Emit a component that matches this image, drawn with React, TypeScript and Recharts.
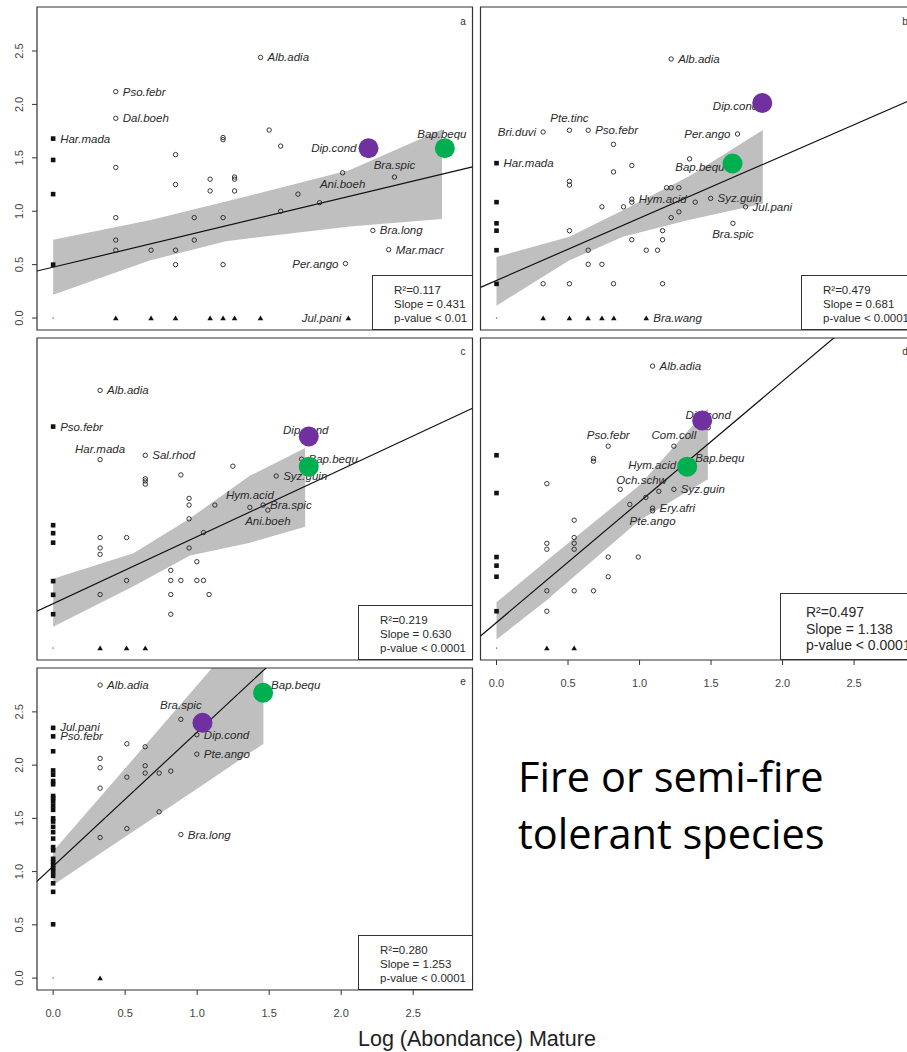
import React from "react";
import { ComposedChart, XAxis, YAxis, Scatter, Line, Area, ReferenceArea } from "recharts";

type XY = [number, number];
type Band = [number, number, number];
type Lab = [string, number, number];
type Place = "r" | "l" | "t" | "b" | [number, number, "start" | "middle" | "end"];

const DOMAIN: [number, number] = [-0.112, 2.912];
const TICKS = [0, 0.5, 1, 1.5, 2, 2.5];

// ---- panel a
const sqA: XY[] = [[0, 1.68], [0, 1.48], [0, 1.16], [0, 0.5]];
const dotA: XY[] = [[0, 0]];
const triA: XY[] = [[0.435, 0], [0.68, 0], [0.85, 0], [1.09, 0], [1.18, 0], [1.26, 0], [1.44, 0], [2.05, 0]];
const cirA: XY[] = [
  [1.44, 2.44], [0.435, 2.12], [0.435, 1.87], [1.5, 1.76], [1.58, 1.61], [1.18, 1.69], [1.18, 1.67],
  [0.85, 1.53], [0.435, 1.41], [0.85, 1.25], [1.09, 1.3], [1.09, 1.19], [1.26, 1.32], [1.26, 1.3],
  [1.26, 1.19], [2.01, 1.36], [2.37, 1.32], [1.7, 1.16], [1.85, 1.08], [1.58, 1.0], [0.435, 0.94],
  [0.98, 0.94], [1.18, 0.94], [0.435, 0.73], [0.98, 0.73], [0.435, 0.635], [0.68, 0.635], [0.85, 0.635],
  [0.85, 0.5], [1.18, 0.5], [2.03, 0.51], [2.22, 0.82], [2.33, 0.64],
];
const dipA: XY = [2.19, 1.59];
const bapA: XY = [2.72, 1.59];
const lineA: XY[] = [[-0.112, 0.44], [2.912, 1.415]];
const bandA: Band[] = [[0, 0.217, 0.733], [0.67, 0.538, 0.915], [1.2, 0.72, 1.09], [2.06, 0.858, 1.387], [2.7, 0.927, 1.764]];
const labA: Lab[] = [
  ["Alb.adia", 1.44, 2.44], ["Pso.febr", 0.435, 2.12], ["Dal.boeh", 0.435, 1.87], ["Har.mada", 0, 1.68],
  ["Dip.cond", 2.19, 1.59], ["Bap.bequ", 2.72, 1.59], ["Bra.spic", 2.37, 1.32], ["Ani.boeh", 2.01, 1.36],
  ["Bra.long", 2.22, 0.82], ["Mar.macr", 2.33, 0.64], ["Per.ango", 2.03, 0.51], ["Jul.pani", 2.05, 0],
];
const statA = ["R²=0.117", "Slope = 0.431", "p-value < 0.01"];

// ---- panel b
const sqB: XY[] = [[0, 1.45], [0, 1.085], [0, 0.887], [0, 0.818], [0, 0.635], [0, 0.32]];
const dotB: XY[] = [[0, 0]];
const triB: XY[] = [[0.326, 0], [0.51, 0], [0.64, 0], [0.737, 0], [0.82, 0], [1.047, 0]];
const cirB: XY[] = [
  [1.221, 2.425], [0.326, 1.742], [0.51, 1.758], [0.641, 1.758], [0.818, 1.626], [1.685, 1.723], [1.35, 1.49],
  [0.946, 1.428], [0.818, 1.368], [0.51, 1.28], [0.51, 1.245], [1.189, 1.22], [1.221, 1.22], [1.275, 1.22],
  [0.946, 1.113], [0.946, 1.085], [0.737, 1.041], [0.888, 1.041], [1.389, 1.085], [1.497, 1.12], [1.741, 1.041],
  [1.275, 0.994], [1.221, 0.94], [1.653, 0.887], [0.51, 0.818], [1.161, 0.818], [0.946, 0.733], [1.161, 0.733],
  [0.641, 0.635], [1.047, 0.635], [1.126, 0.635], [0.641, 0.503], [0.737, 0.503], [0.326, 0.321], [0.51, 0.321],
  [0.818, 0.321], [1.161, 0.321],
];
const dipB: XY = [1.858, 2.013];
const bapB: XY = [1.65, 1.447];
const lineB: XY[] = [[-0.112, 0.287], [2.912, 2.05]];
const bandB: Band[] = [[0, 0.116, 0.572], [0.51, 0.54, 0.76], [0.884, 0.76, 1.01], [1.35, 0.92, 1.33], [1.862, 1.07, 1.76]];
const labB: Lab[] = [
  ["Alb.adia", 1.221, 2.425], ["Bri.duvi", 0.326, 1.742], ["Pte.tinc", 0.51, 1.758], ["Pso.febr", 0.641, 1.758],
  ["Har.mada", 0, 1.45], ["Per.ango", 1.685, 1.723], ["Dip.cond", 1.858, 2.013], ["Bap.bequ", 1.65, 1.447],
  ["Hym.acid", 0.946, 1.113], ["Syz.guin", 1.497, 1.12], ["Jul.pani", 1.741, 1.041], ["Bra.spic", 1.653, 0.887],
  ["Bra.wang", 1.047, 0],
];
const statB = ["R²=0.479", "Slope = 0.681", "p-value < 0.0001"];

// ---- panel c
const sqC: XY[] = [[0, 2.08], [0, 1.154], [0, 1.079], [0, 0.99], [0, 0.629], [0, 0.5], [0, 0.318]];
const dotC: XY[] = [[0, 0]];
const triC: XY[] = [[0.326, 0], [0.51, 0], [0.64, 0]];
const cirC: XY[] = [
  [0.326, 2.42], [0.326, 1.77], [0.64, 1.81], [0.64, 1.59], [0.64, 1.57], [0.64, 1.54], [0.887, 1.626],
  [1.248, 1.708], [1.549, 1.616], [1.725, 1.774], [0.944, 1.406], [0.944, 1.343], [1.123, 1.343], [0.944, 1.214],
  [1.366, 1.321], [1.458, 1.343], [1.491, 1.296], [1.044, 1.085], [0.326, 1.038], [0.51, 1.038], [0.326, 0.94],
  [0.326, 0.88], [0.944, 0.94], [0.998, 0.811], [0.817, 0.73], [0.51, 0.635], [0.817, 0.635], [0.887, 0.635],
  [0.998, 0.635], [1.044, 0.635], [0.326, 0.503], [0.817, 0.503], [1.083, 0.503], [0.817, 0.318],
];
const dipC: XY = [1.775, 1.987];
const bapC: XY = [1.775, 1.704];
const lineC: XY[] = [[-0.112, 0.346], [2.912, 2.252]];
const bandC: Band[] = [[0, 0.2, 0.65], [0.558, 0.58, 0.89], [0.951, 0.87, 1.22], [1.368, 0.99, 1.62], [1.75, 1.14, 1.88]];
const labC: Lab[] = [
  ["Alb.adia", 0.326, 2.42], ["Pso.febr", 0, 2.08], ["Har.mada", 0.326, 1.77], ["Sal.rhod", 0.64, 1.81],
  ["Dip.cond", 1.775, 1.987], ["Bap.bequ", 1.725, 1.774], ["Syz.guin", 1.549, 1.616], ["Hym.acid", 1.366, 1.321],
  ["Bra.spic", 1.458, 1.343], ["Ani.boeh", 1.491, 1.296],
];
const statC = ["R²=0.219", "Slope = 0.630", "p-value < 0.0001"];

// ---- panel d
const sqD: XY[] = [[0, 1.811], [0, 1.456], [0, 0.855], [0, 0.774], [0, 0.67], [0, 0.346]];
const dotD: XY[] = [[0, 0]];
const triD: XY[] = [[0.352, 0], [0.543, 0]];
const cirD: XY[] = [
  [1.091, 2.648], [0.781, 1.896], [1.24, 1.896], [0.678, 1.78], [0.678, 1.755], [0.352, 1.544], [0.865, 1.491],
  [1.135, 1.472], [1.24, 1.491], [1.044, 1.415], [0.932, 1.349], [1.091, 1.314], [1.091, 1.289], [0.543, 1.201],
  [0.352, 0.984], [0.352, 0.928], [0.543, 1.038], [0.543, 0.984], [0.543, 0.928], [0.781, 0.855], [0.991, 0.855],
  [0.781, 0.67], [0.352, 0.538], [0.543, 0.538], [0.678, 0.538], [0.352, 0.346], [1.48, 2.07],
];
const dipD: XY = [1.438, 2.138];
const bapD: XY = [1.333, 1.704];
const lineD: XY[] = [[-0.112, 0.113], [2.912, 3.54]];
const bandD: Band[] = [[0, 0.08, 0.43], [0.35, 0.45, 0.82], [1.0, 1.2, 1.53], [1.478, 1.585, 2.25]];
const labD: Lab[] = [
  ["Alb.adia", 1.091, 2.648], ["Pso.febr", 0.781, 1.896], ["Com.coll", 1.24, 1.896], ["Dip.cond", 1.438, 2.138],
  ["Bap.bequ", 1.333, 1.704], ["Hym.acid", 1.333, 1.704], ["Och.schw", 1.135, 1.472], ["Syz.guin", 1.24, 1.491],
  ["Ery.afri", 1.091, 1.314], ["Pte.ango", 1.091, 1.289],
];
const statD = ["R²=0.497", "Slope = 1.138", "p-value < 0.0001"];

// ---- panel e
const sqE: XY[] = [
  2.35, 2.27, 2.13, 1.95, 1.91, 1.85, 1.82, 1.71, 1.69, 1.66, 1.62, 1.58, 1.5, 1.47, 1.42, 1.37, 1.31, 1.23,
  1.2, 1.12, 1.09, 1.06, 1.03, 1.0, 0.96, 0.89, 0.81, 0.505,
].map((y) => [0, y] as XY);
const dotE: XY[] = [[0, 0]];
const triE: XY[] = [[0.326, 0]];
const cirE: XY[] = [
  [0.326, 2.752], [0.887, 2.43], [0.998, 2.285], [0.998, 2.103], [0.512, 2.2], [0.639, 2.172], [0.326, 2.063],
  [0.326, 1.975], [0.639, 1.994], [0.512, 1.887], [0.639, 1.925], [0.736, 1.925], [0.817, 1.944], [0.326, 1.784],
  [0.736, 1.561], [0.512, 1.404], [0.326, 1.32], [0.887, 1.348],
];
const dipE: XY = [1.037, 2.398];
const bapE: XY = [1.458, 2.68];
const lineE: XY[] = [[-0.112, 0.908], [2.912, 4.72]];
const bandE: Band[] = [[0, 0.875, 1.19], [1.09, 1.86, 2.89], [1.46, 2.2, 3.46]];
const labE: Lab[] = [
  ["Alb.adia", 0.326, 2.752], ["Bap.bequ", 1.458, 2.68], ["Bra.spic", 0.887, 2.43], ["Dip.cond", 0.998, 2.285],
  ["Pte.ango", 0.998, 2.103], ["Bra.long", 0.887, 1.348], ["Jul.pani", 0, 2.35], ["Pso.febr", 0, 2.27],
];
const statE = ["R²=0.280", "Slope = 1.253", "p-value < 0.0001"];

// label placement around the anchor point
const placeA: Record<string, Place> = {
  "Dip.cond": [-12, 4, "end"], "Bap.bequ": [-3, -10, "middle"], "Bra.spic": "t", "Ani.boeh": "b",
  "Per.ango": "l", "Jul.pani": "l",
};
const placeB: Record<string, Place> = {
  "Bri.duvi": "l", "Pte.tinc": "t", "Per.ango": "l", "Dip.cond": [-4, 7, "end"], "Bap.bequ": [-8, 8, "end"],
  "Bra.spic": "b",
};
const placeC: Record<string, Place> = {
  "Har.mada": [0, -7, "middle"], "Dip.cond": [-3, -2, "middle"], "Hym.acid": "t", "Ani.boeh": "b",
};
const placeD: Record<string, Place> = {
  "Pso.febr": [0, -7, "middle"], "Com.coll": [0, -7, "middle"], "Dip.cond": [6, -1, "middle"],
  "Bap.bequ": [8, -5, "start"], "Hym.acid": [-11, 2, "end"], "Och.schw": [8, -7, "end"], "Pte.ango": [0, 14, "middle"],
};
const placeE: Record<string, Place> = {
  "Bap.bequ": [8, -4, "start"], "Bra.spic": [0, -10, "middle"], "Jul.pani": [7, 3, "start"],
};

const PLACE: Record<string, [number, number, "start" | "middle" | "end"]> = {
  r: [7, 4, "start"], l: [-7, 4, "end"], t: [0, -8, "middle"], b: [0, 15, "middle"],
};

const SANS = "'Liberation Sans', Arial, sans-serif";
const pts = (a: XY[]) => a.map(([x, y]) => ({ x, y }));
const bandRows = (a: Band[]) => a.map(([x, lo, hi]) => ({ x, band: [lo, hi] }));

const openCircle = (p: any) => <circle cx={p.cx} cy={p.cy} r={2.2} fill="none" stroke="#222" strokeWidth={0.9} />;
const square = (p: any) => <rect x={p.cx - 2.3} y={p.cy - 2.3} width={4.6} height={4.6} fill="#111" />;
const triangle = (p: any) => (
  <path d={`M${p.cx - 2.8},${p.cy + 2.2} L${p.cx + 2.8},${p.cy + 2.2} L${p.cx},${p.cy - 2.6} Z`} fill="#111" />
);
const tinyDot = (p: any) => <rect x={p.cx - 0.6} y={p.cy - 0.6} width={1.2} height={1.2} fill="#555" />;
const bigDot = (color: string) => (p: any) => <circle cx={p.cx} cy={p.cy} r={10} fill={color} />;

const makeLabel = (place: Record<string, Place>) => (p: any) => {
  const name = p.payload.name as string;
  const pl = place[name] ?? "r";
  const [dx, dy, anchor] = typeof pl === "string" ? PLACE[pl] : pl;
  return (
    <text x={p.cx + dx} y={p.cy + dy} textAnchor={anchor} fontSize={11.5} fontStyle="italic" fontFamily={SANS} fill="#2a2a2a">
      {name}
    </text>
  );
};

const YTick = (p: any) => {
  const x = p.x - 7.3;
  return (
    <text x={x} y={p.y} transform={`rotate(-90, ${x}, ${p.y})`} textAnchor="middle" fontSize={11} fontFamily={SANS} fill="#444">
      {Number(p.payload.value).toFixed(1)}
    </text>
  );
};

const XTick = (p: any) => (
  <text x={p.x} y={p.y + 16} textAnchor="middle" fontSize={11} fontFamily={SANS} fill="#444">
    {Number(p.payload.value).toFixed(1)}
  </text>
);

interface PanelProps {
  sq: XY[]; dot: XY[]; tri: XY[]; cir: XY[]; dip: XY; bap: XY; line: XY[]; band: Band[];
  labels: Lab[]; place: Record<string, Place>;
  left: number; top: number; width: number; height: number;
  margin: { top: number; right: number; bottom: number; left: number };
  showX?: boolean; showY?: boolean;
}

function Panel(p: PanelProps) {
  return (
    <div style={{ position: "absolute", left: p.left, top: p.top }}>
      <ComposedChart width={p.width} height={p.height} margin={p.margin}>
        <XAxis
          dataKey="x" type="number" domain={DOMAIN} ticks={TICKS} allowDataOverflow hide={!p.showX}
          height={30} axisLine={false} tickSize={5} tickLine={{ stroke: "#333" }} tick={<XTick />} tickMargin={6}
        />
        <YAxis
          dataKey="y" type="number" domain={DOMAIN} ticks={TICKS} allowDataOverflow hide={!p.showY}
          width={37} axisLine={false} tickSize={5} tickLine={{ stroke: "#333" }} tick={<YTick />}
        />
        <Area data={bandRows(p.band)} dataKey="band" type="linear" fill="#bfbfbf" fillOpacity={1} stroke="none" isAnimationActive={false} />
        <Line data={pts(p.line)} dataKey="y" type="linear" dot={false} stroke="#111" strokeWidth={1.2} isAnimationActive={false} />
        <Scatter data={pts(p.cir)} shape={openCircle} isAnimationActive={false} />
        <Scatter data={pts(p.sq)} shape={square} isAnimationActive={false} />
        <Scatter data={pts(p.tri)} shape={triangle} isAnimationActive={false} />
        <Scatter data={pts(p.dot)} shape={tinyDot} isAnimationActive={false} />
        <Scatter data={p.labels.map(([name, x, y]) => ({ name, x, y }))} shape={makeLabel(p.place)} isAnimationActive={false} />
        <Scatter data={pts([p.dip])} shape={bigDot("#7030a0")} isAnimationActive={false} />
        <Scatter data={pts([p.bap])} shape={bigDot("#00b050")} isAnimationActive={false} />
        <ReferenceArea x1={DOMAIN[0]} x2={DOMAIN[1]} y1={DOMAIN[0]} y2={DOMAIN[1]} fill="none" stroke="#333" strokeWidth={1.2} ifOverflow="visible" />
      </ComposedChart>
    </div>
  );
}

function StatBox({ lines, left, top, width, height, pad, fontSize, lineHeight, padTop }: any) {
  return (
    <div
      style={{
        position: "absolute", left, top, width, height, boxSizing: "border-box", border: "1.2px solid #333",
        background: "#fff", paddingLeft: pad, paddingTop: padTop, fontFamily: SANS, fontSize, lineHeight: `${lineHeight}px`,
        color: "#2a2a2a", whiteSpace: "nowrap",
      }}
    >
      {lines.map((l: string) => <div key={l}>{l}</div>)}
    </div>
  );
}

const letter = (t: string, x: number, y: number) => (
  <div style={{ position: "absolute", left: x - 5, top: y - 7, width: 10, textAlign: "center", fontFamily: SANS, fontSize: 10, color: "#333" }}>{t}</div>
);

export default function App() {
  const leftM = { top: 7, right: 7.5, bottom: 10, left: 0 };
  return (
    <div style={{ position: "absolute", left: 0, top: 0, width: 907, height: 1052, overflow: "hidden", background: "#fff" }}>
      <Panel sq={sqA} dot={dotA} tri={triA} cir={cirA} dip={dipA} bap={bapA} line={lineA} band={bandA} labels={labA} place={placeA}
        left={0} top={0} width={480} height={340} margin={leftM} showY />
      <Panel sq={sqB} dot={dotB} tri={triB} cir={cirB} dip={dipB} bap={bapB} line={lineB} band={bandB} labels={labB} place={placeB}
        left={475} top={0} width={445} height={340} margin={{ top: 7, right: 7, bottom: 10, left: 5.5 }} />
      <Panel sq={sqC} dot={dotC} tri={triC} cir={cirC} dip={dipC} bap={bapC} line={lineC} band={bandC} labels={labC} place={placeC}
        left={0} top={330} width={480} height={345} margin={{ top: 8, right: 7.5, bottom: 15, left: 37 }} />
      <Panel sq={sqD} dot={dotD} tri={triD} cir={cirD} dip={dipD} bap={bapD} line={lineD} band={bandD} labels={labD} place={placeD}
        left={475} top={330} width={445} height={360} margin={{ top: 8, right: 7, bottom: 0, left: 5.5 }} showX />
      <Panel sq={sqE} dot={dotE} tri={triE} cir={cirE} dip={dipE} bap={bapE} line={lineE} band={bandE} labels={labE} place={placeE}
        left={0} top={660} width={480} height={360} margin={{ top: 8, right: 7.5, bottom: 0, left: 0 }} showX showY />

      <StatBox lines={statA} left={372} top={275} width={101} height={55} pad={21} padTop={7} fontSize={11.5} lineHeight={14} />
      <StatBox lines={statB} left={801} top={275} width={112} height={55} pad={21} padTop={7} fontSize={11.5} lineHeight={14} />
      <StatBox lines={statC} left={358} top={605} width={115} height={55} pad={21} padTop={7} fontSize={11.5} lineHeight={14} />
      <StatBox lines={statD} left={780} top={593} width={133} height={67} pad={25} padTop={10} fontSize={14} lineHeight={16.5} />
      <StatBox lines={statE} left={358} top={935} width={115} height={55} pad={21} padTop={7} fontSize={11.5} lineHeight={14} />

      {letter("a", 463, 23)}
      {letter("b", 905, 23)}
      {letter("c", 463, 353)}
      {letter("d", 905, 353)}
      {letter("e", 463, 683)}

      <div style={{ position: "absolute", left: 518, top: 748, fontFamily: "'Open Sans', sans-serif", fontSize: 41.5, lineHeight: "57px", color: "#000" }}>
        <div>Fire or semi-fire</div>
        <div>tolerant species</div>
      </div>
      <div style={{ position: "absolute", left: 358, top: 1027, fontFamily: SANS, fontSize: 21.5, color: "#222", whiteSpace: "nowrap" }}>
        Log (Abondance) Mature
      </div>
    </div>
  );
}
